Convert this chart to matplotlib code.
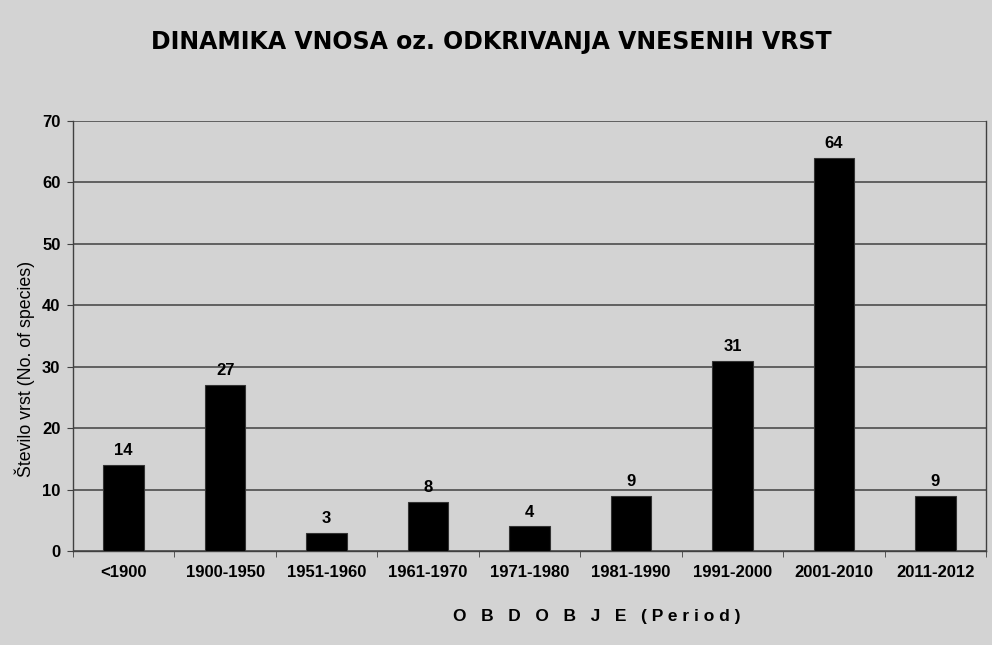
import matplotlib
matplotlib.use("Agg")
import matplotlib.pyplot as plt

categories = ["<1900", "1900-1950", "1951-1960", "1961-1970", "1971-1980",
              "1981-1990", "1991-2000", "2001-2010", "2011-2012"]
values = [14, 27, 3, 8, 4, 9, 31, 64, 9]
yticks = [0, 10, 20, 30, 40, 50, 60, 70]

bg = "#d3d3d3"
fig = plt.figure(figsize=(9.92, 6.45), dpi=100, facecolor=bg)
ax = fig.add_axes([73/992, 94/645, 913/992, 430/645], facecolor=bg)

x = list(range(len(categories)))
ax.bar(x, values, width=0.4, color="black", edgecolor="#333333", linewidth=0.8, zorder=3)
for xi, v in zip(x, values):
    ax.text(xi, v + 1.1, str(v), ha="center", va="bottom", fontsize=12,
            fontweight="bold", family="Liberation Sans")

ax.set_xlim(-0.5, len(categories) - 0.5)
ax.set_ylim(0, 70)
ax.set_yticks(yticks)
ax.set_yticklabels([str(t) for t in yticks], fontsize=12, fontweight="bold", family="Liberation Sans")
ax.yaxis.grid(True, color="#404040", linewidth=1.1, zorder=0)
ax.set_axisbelow(True)

ax.set_xticks(x)
ax.set_xticklabels(categories, fontsize=12, fontweight="bold", family="Liberation Sans")
ax.set_xticks([i - 0.5 for i in range(len(categories) + 1)], minor=True)
ax.tick_params(axis="x", which="major", length=0, pad=10)
ax.tick_params(axis="x", which="minor", length=4, direction="out", color="#404040")
ax.tick_params(axis="y", length=4, direction="out", color="#404040", pad=5)

for side in ["left", "bottom", "right"]:
    ax.spines[side].set_color("#404040")
    ax.spines[side].set_linewidth(1.0)
ax.spines["top"].set_visible(False)

fig.text(25/992, 1 - 369/645, "Število vrst (No. of species)", rotation=90, ha="center", va="center",
         fontsize=12.8, family="Liberation Sans")

fig.text(597/992, 1 - 617/645, "O   B   D   O   B   J   E   ( P e r i o d )", ha="center", va="center",
         fontsize=12.5, fontweight="bold", family="Liberation Sans")
fig.text(491/992, 1 - 42/645, "DINAMIKA VNOSA oz. ODKRIVANJA VNESENIH VRST", ha="center",
         va="center", fontsize=17, fontweight="bold", family="DejaVu Sans")

fig.savefig("out.png", dpi=100, facecolor=bg)
